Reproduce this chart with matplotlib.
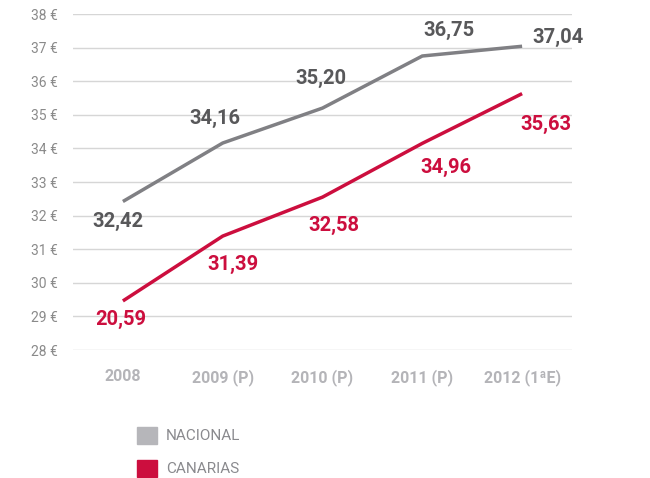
import matplotlib.pyplot as plt
from matplotlib.patches import Patch
import numpy as np

plt.rcParams['font.family'] = ['Roboto', 'DejaVu Sans']

# data
years = ['2008', '2009 (P)', '2010 (P)', '2011 (P)', '2012 (1ªE)']
nacional = [32.42, 34.16, 35.20, 36.75, 37.04]
canarias = [29.46, 31.39, 32.55, 34.15, 35.63]
nacional_labels = ['32,42', '34,16', '35,20', '36,75', '37,04']
canarias_labels = ['20,59', '31,39', '32,58', '34,96', '35,63']
yticks = list(range(28, 39))

gray_line = '#808084'
gray_text = '#58585a'
red = '#cc0e3e'
legend_gray = '#b6b6ba'

fig = plt.figure(figsize=(6.5, 4.78), dpi=100)
ax = fig.add_axes([73 / 650, 1 - 350 / 478, (572 - 73) / 650, (350 - 14) / 478])

x = np.arange(len(years))
ax.plot(x, nacional, color=gray_line, lw=2.5, solid_capstyle='butt', solid_joinstyle='miter')
ax.plot(x, canarias, color=red, lw=2.5, solid_capstyle='butt', solid_joinstyle='miter')

# label offsets in pixels (dx, dy), converted to points
nac_off = [(-5, -20), (-8, 25), (-2, 30), (27, 26), (36, 9)]
can_off = [(-2, -19), (10, -28), (11, -28), (24, -24), (24, -31)]
for xi, v, lab, (dx, dy) in zip(x, nacional, nacional_labels, nac_off):
    ax.annotate(lab, (xi, v), xytext=(dx * 0.72, dy * 0.72), textcoords='offset points',
                ha='center', va='center', fontsize=14.5, fontweight='bold', color=gray_text)
for xi, v, lab, (dx, dy) in zip(x, canarias, canarias_labels, can_off):
    ax.annotate(lab, (xi, v), xytext=(dx * 0.72, dy * 0.72), textcoords='offset points',
                ha='center', va='center', fontsize=14.5, fontweight='bold', color=red)

ax.set_xlim(-0.5, 4.5)
ax.set_ylim(28, 38)
ax.set_yticks(yticks)
ax.set_yticklabels([f'{t} €' for t in yticks])
ax.set_xticks(x)
ax.set_xticklabels(years, fontweight='bold', fontsize=11.5, color='#b4b4b8')
ax.tick_params(axis='x', length=0, pad=14)
ax.tick_params(axis='y', length=0, pad=11, labelsize=10, labelcolor='#8a8a8a')
ax.grid(axis='y', color='#d6d6d6', lw=1)
ax.set_axisbelow(True)
for s in ax.spines.values():
    s.set_visible(False)

handles = [Patch(color=legend_gray), Patch(color=red)]
fig.legend(handles, ['NACIONAL', 'CANARIAS'], loc='upper left',
           bbox_to_anchor=(137 / 650, 1 - 427 / 478), frameon=False,
           borderpad=0, borderaxespad=0, handlelength=1.31, handleheight=1.31,
           handletextpad=0.6, labelspacing=1.06, prop={'size': 11},
           labelcolor='#8a8a8e')

fig.savefig('out.png', dpi=100)
